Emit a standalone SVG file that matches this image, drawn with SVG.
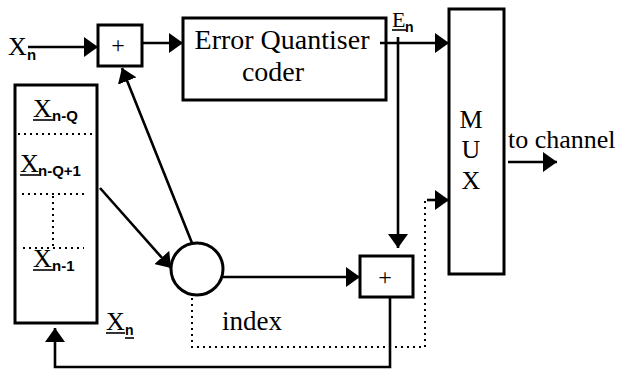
<svg xmlns="http://www.w3.org/2000/svg" width="618" height="370" viewBox="0 0 618 370">
<defs>
<marker id="ah" viewBox="0 0 14 20" refX="14" refY="10" markerWidth="14" markerHeight="20" markerUnits="userSpaceOnUse" orient="auto">
<path d="M0,0 L14,10 L0,20 z" fill="#000"/>
</marker>
<style>
.box{fill:#fff;stroke:#000;stroke-width:3}
.ln{fill:none;stroke:#000;stroke-width:2.6}
.arr{fill:none;stroke:#000;stroke-width:2.6;marker-end:url(#ah)}
.dot{fill:none;stroke:#000;stroke-width:2;stroke-dasharray:2 4}
.t{font-family:"Liberation Serif","Times New Roman",serif;fill:#000}
.s{font-family:"Liberation Sans",Arial,sans-serif;font-weight:bold;fill:#000}
.ul{stroke:#000;stroke-width:1.6}
</style>
</defs>
<rect width="618" height="370" fill="#fff"/>

<g id="register">
<rect class="box" x="15" y="85" width="82" height="238"/>
<line class="dot" x1="18" y1="134" x2="92" y2="134"/>
<line class="dot" x1="22" y1="194" x2="88" y2="194"/>
<line class="dot" x1="53" y1="196" x2="53" y2="247"/>
<line class="dot" x1="23" y1="248" x2="84" y2="248"/>
<text class="t" x="33" y="117" font-size="26">X</text>
<text class="s" x="52" y="121" font-size="15">n-Q</text>
<line class="ul" x1="33" y1="120" x2="53" y2="120"/>
<text class="t" x="20" y="172" font-size="26">X</text>
<text class="s" x="38" y="176" font-size="15">n-Q+1</text>
<line class="ul" x1="20" y1="175" x2="39" y2="175"/>
<text class="t" x="33" y="267" font-size="26">X</text>
<text class="s" x="52" y="271" font-size="15">n-1</text>
<line class="ul" x1="33" y1="270" x2="53" y2="270"/>
</g>

<g id="input-label">
<text class="t" x="8" y="55" font-size="26">X</text>
<text class="s" x="27" y="60" font-size="15">n</text>
</g>

<g id="adder-top">
<rect class="box" x="98" y="25" width="44" height="41"/>
<text class="t" x="118" y="53" font-size="24" text-anchor="middle">+</text>
</g>

<g id="error-quantiser">
<rect class="box" x="183" y="18" width="203" height="82"/>
<text class="t" x="282" y="49" font-size="28" text-anchor="middle">Error Quantiser</text>
<text class="t" x="273" y="81" font-size="28" text-anchor="middle">coder</text>
</g>

<g id="en-label">
<text class="t" x="392" y="27" font-size="22">E</text>
<line class="ul" x1="392" y1="30" x2="406" y2="30"/>
<text class="s" x="405" y="32" font-size="14">n</text>
</g>

<g id="mux">
<rect class="box" x="449" y="9" width="55" height="265"/>
<text class="t" x="471" y="128" font-size="26" text-anchor="middle">M</text>
<text class="t" x="471" y="158" font-size="26" text-anchor="middle">U</text>
<text class="t" x="471" y="189" font-size="26" text-anchor="middle">X</text>
</g>

<g id="to-channel">
<text class="t" x="508" y="148" font-size="26">to channel</text>
</g>

<g id="predictor">
<circle cx="197" cy="269" r="26" fill="#fff" stroke="#000" stroke-width="3"/>
</g>

<g id="adder-bottom">
<rect class="box" x="360" y="256" width="53" height="41"/>
<text class="t" x="385" y="285" font-size="24" text-anchor="middle">+</text>
</g>

<g id="index-label">
<text class="t" x="222" y="330" font-size="27">index</text>
</g>

<g id="xn-label">
<text class="t" x="106" y="330" font-size="26">X</text>
<line class="ul" x1="106" y1="333" x2="125" y2="333"/>
<text class="s" x="125" y="335" font-size="14">n</text>
<line class="ul" x1="125" y1="338" x2="134" y2="338"/>
</g>

<g id="connectors">
<line class="arr" x1="28" y1="47" x2="98" y2="47"/>
<line class="arr" x1="142" y1="43" x2="183" y2="43"/>
<line class="arr" x1="380" y1="43" x2="449" y2="43"/>
<line class="arr" x1="398" y1="37" x2="398" y2="248"/>
<line class="arr" x1="222" y1="277" x2="360" y2="277"/>
<line class="arr" x1="192" y1="243" x2="122" y2="68"/>
<line class="arr" x1="100" y1="188" x2="171" y2="268"/>
<line class="arr" x1="508" y1="162" x2="557" y2="162"/>
<polyline class="arr" points="390,297 390,367 55,367 55,328"/>
<polyline class="dot" points="192,298 192,347 425,347 425,197"/>
<line class="arr" x1="427" y1="200" x2="449" y2="200"/>
</g>
</svg>
